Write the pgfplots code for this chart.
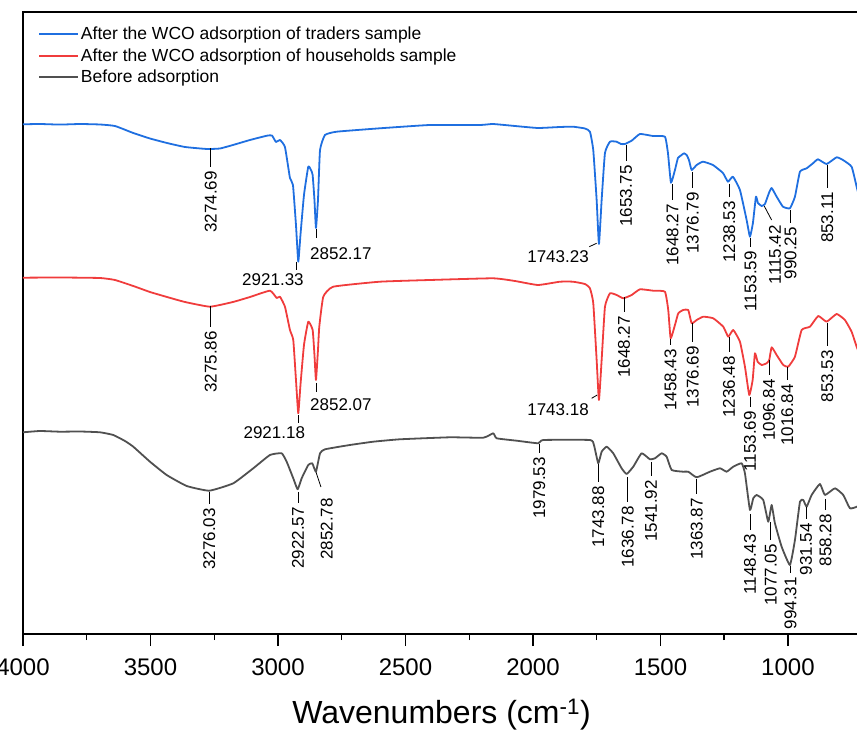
\documentclass[border=0pt]{standalone}
\usepackage{fontspec}
\setmainfont{Liberation Sans}
\usepackage{pgfplots}
\usepackage{pgfplotstable}
\pgfplotsset{compat=1.18}
\usetikzlibrary{calc}

\definecolor{cblue}{HTML}{1F6FE0}
\definecolor{cred}{HTML}{F03C3C}
\definecolor{cgrey}{HTML}{505050}

% columns: wavenumber, depth below the top of the picture (axis top = 12, bottom = 634)
\pgfplotstableread{
w y
4000 124.3
3933.3 124.0
3854.9 124.6
3776.5 124.0
3698.0 124.5
3639.2 126
3567.5 133
3502 138.5
3435.3 143
3364.7 147
3278.4 149
3227.5 148.5
3176.5 145
3109.8 140
3043.2 135.7
3023.5 135.5
3007.8 142
2992.2 140
2972.6 147
2953.0 178
2941.2 185
2929.4 225
2920.4 261.7
2911.8 235
2898.0 195
2881.2 166.7
2870.6 170
2864.0 175
2856.9 200
2851.0 228
2843.1 200
2835.1 150
2815.7 135
2769.8 131.7
2600.0 128.3
2404.0 125
2208.1 125
2157.1 124
2070.5 126
1980.4 128
1894.1 127
1843.1 126.7
1796.1 128.5
1776.5 131.7
1763.5 150
1750.2 200
1741.2 244
1730.6 200
1717.6 153
1698.0 141.7
1671.8 141.7
1654.9 144
1639.2 144
1612.9 140.7
1580.4 134
1529.5 136
1482.4 136.7
1470.6 153
1458.8 182.7
1443.1 170
1431.4 158
1416.9 155
1407.8 153.3
1397.3 155
1388.2 160
1377.6 170
1358.0 165
1333.3 161.7
1294.1 165
1254.9 173
1235.3 181.7
1215.7 176.7
1188.2 190
1162.0 220
1149.0 236.7
1137.3 223
1125.5 196.7
1117.6 203
1103.1 206
1090.2 204
1074.5 193
1063.9 188
1044.3 196.7
1019.6 206.7
992.2 208.3
972.5 196.7
952.9 171.7
926.6 168.3
901.9 163.3
882.3 159.3
848.3 164
809.0 157.3
784.3 160
750.3 166.7
730.6 186.7
717.6 200
}\traders

\pgfplotstableread{
w y
4000 277.7
3854.9 277.5
3698 278
3639.2 280
3567.5 286
3502 292
3435.3 297
3364.7 302
3266.7 306.7
3176.5 302
3109.8 297
3031.4 290.7
3005.1 298
2992.2 296.7
2972.6 306.7
2953 330
2940 340
2929.4 380
2920.4 413.3
2911.8 385
2898 345
2881.2 321.7
2864 330
2856.9 355
2851 380
2843.1 350
2838 326.7
2822.3 296.7
2783.1 286.7
2600 281.7
2404 280
2157.1 278.3
2070.5 281
1980.4 285
1894.1 281.7
1843.1 281.7
1796.1 284
1776.5 288.3
1763.5 303
1750.2 360
1741.2 400
1730.6 360
1717.6 306.7
1698 293.3
1671.8 295
1645.9 298.3
1612.9 295
1580.4 289.3
1528.2 290.7
1482.4 291.7
1469.4 310
1460.0 338.3
1443.1 325
1430.1 313.3
1410.6 310
1390.9 310
1377.6 323.3
1358 320
1332.1 316.7
1292.9 318.3
1253.7 326.7
1234.1 336.7
1214.5 330
1188.2 341.7
1168.6 366.7
1151.7 395
1138.4 380
1129.4 353.3
1118.8 361.7
1103.1 365
1083.5 363.3
1073.3 360
1063.9 347.3
1044.3 355
1018.4 365
998.8 366.7
972.5 356.7
946.3 330
913.6 326.7
881.1 316
848.3 321.7
809 314
776.5 320
750.3 331.7
730.6 346.7
717.6 355
}\households

\pgfplotstableread{
w y
4000 432.3
3933.3 431
3854.9 431.7
3776.5 431.5
3698 432.3
3645.9 435
3600 441
3567.5 446.7
3502 461.7
3436.5 475
3358.0 486
3269.4 490.7
3175.3 483.3
3096.9 468.3
3031.4 455
2985.5 453.3
2965.9 461.7
2940 478.3
2922.8 489.3
2907.1 478.3
2881.2 465
2865.5 463.3
2851 471.7
2835.1 453.3
2815.7 449.3
2718.0 445
2626.3 441.7
2521.6 439.3
2325.5 437.3
2194.8 437.7
2155.7 433.3
2142.4 438.3
2064 440.7
1979.2 443.3
1959.6 440
1776.5 440
1760.8 445
1743.9 463.3
1730.6 451.7
1711 446.7
1685.1 453.3
1652.2 468.3
1632.6 474
1606.6 466.7
1573.8 453.3
1541.2 459.3
1521.6 458.3
1495.3 453.3
1475.7 456.7
1456.1 470
1410.6 471.7
1390.9 471.7
1358 477.3
1305.8 471.7
1266.7 468.3
1240.4 471.7
1214.5 466.7
1181.6 463.3
1168.6 473.3
1149 510
1136 498.3
1122.7 495
1096.8 500
1077.2 521.7
1063.9 505
1051 523.3
1024.7 546.7
992.2 565
972.5 540
952.9 501.7
939.9 500
926.6 506.7
907.1 495
874.5 484
855 495
815.7 488.3
783.1 495
756.9 508.3
729.4 506.7
717.6 505
}\before

\newcommand{\pkfont}{\fontsize{17}{20}\selectfont}
% peak marker: wavenumber, line top, line bottom, label (depths below picture top)
\newcommand{\pk}[4]{%
  \draw[black, line width=0.8pt] (axis cs:#1,736-#2) -- (axis cs:#1,736-#3);
  \node[rotate=90, anchor=east, inner sep=0pt, font=\pkfont] at (axis cs:#1,732-#3) {#4};}

\begin{document}
\begin{tikzpicture}
\begin{axis}[
    scale only axis,
    width=837.1pt, height=622pt,
    x dir=reverse,
    xmin=717, xmax=4000,
    ymin=102, ymax=724,
    xtick={1000,1500,2000,2500,3000,3500,4000},
    minor x tick num=1,
    ytick=\empty,
    xtick pos=bottom,
    tick align=outside,
    major tick length=12pt,
    minor tick length=6pt,
    every tick/.style={black, line width=1.4pt},
    axis line style={line width=1.6pt},
    /pgf/number format/assume math mode=true,
    /pgf/number format/set thousands separator={},
    tick label style={font=\fontsize{24}{28}\selectfont},
    xticklabel style={yshift=-9pt},
    xlabel={Wavenumbers (cm\textsuperscript{-1})},
    xlabel style={font=\fontsize{32}{37}\selectfont, yshift=-17pt},
    legend style={draw=none, fill=none, at={(axis description cs:0,1)}, anchor=north west,
        xshift=12pt, yshift=-11pt, font=\fontsize{17.5}{21}\selectfont, row sep=3.3pt},
    legend cell align=left,
    legend image code/.code={\draw[#1] (0pt,0pt) -- (39pt,0pt);},
    clip=true,
]
\addplot[cblue, line width=1.8pt, line join=round, smooth, tension=0.25] table[x=w, y expr=736-\thisrow{y}] {\traders};
\addlegendentry{After the WCO adsorption of traders sample}
\addplot[cred, line width=1.8pt, line join=round, smooth, tension=0.25] table[x=w, y expr=736-\thisrow{y}] {\households};
\addlegendentry{After the WCO adsorption of households sample}
\addplot[cgrey, line width=1.8pt, line join=round, smooth, tension=0.25] table[x=w, y expr=736-\thisrow{y}] {\before};
\addlegendentry{Before adsorption}

\coordinate (O) at (axis cs:4000,102);

% traders
\pk{3264}{148}{167}{3274.69}
\pk{1635.3}{145}{161}{1653.75}
\pk{1452.2}{184}{200}{1648.27}
\pk{1373.7}{172}{188}{1376.79}
\pk{1230.2}{184}{197}{1238.53}
\pk{1146.3}{238}{247}{1153.59}
\pk{989.4}{210}{223}{990.25}
\pk{845.9}{165}{188}{853.11}
\draw[black, line width=0.8pt] (axis cs:1093,736-206) -- (axis cs:1064,736-220);
\node[rotate=90, anchor=east, inner sep=0pt, font=\pkfont] at (axis cs:1051,736-225) {1115.42};
\draw[black, line width=0.8pt] (axis cs:2926.7,736-262) -- (axis cs:2926.7,736-270);
\node[anchor=center, inner sep=0pt, font=\pkfont] at (axis cs:3019.6,736-280) {2921.33};
\draw[black, line width=0.8pt] (axis cs:2848.3,736-229) -- (axis cs:2848.3,736-238);
\node[anchor=west, inner sep=0pt, font=\pkfont] at (axis cs:2874.5,736-253.3) {2852.17};
\draw[black, line width=0.8pt] (axis cs:1779.2,736-246.7) -- (axis cs:1750.2,736-243.3);
\node[anchor=east, inner sep=0pt, font=\pkfont] at (axis cs:1780.4,736-256.7) {1743.23};

% households
\pk{3264}{306}{327}{3275.86}
\pk{1643.1}{297}{312}{1648.27}
\pk{1460}{339}{345}{1458.43}
\pk{1373.7}{323}{342}{1376.69}
\pk{1231.3}{337}{352}{1236.48}
\pk{1149}{397}{407}{1153.69}
\pk{1074.5}{360}{375}{1096.84}
\pk{1002.7}{367}{380}{1016.84}
\pk{845.9}{323}{346}{853.53}
\draw[black, line width=0.8pt] (axis cs:2920.4,736-415) -- (axis cs:2920.4,736-423.3);
\node[anchor=center, inner sep=0pt, font=\pkfont] at (axis cs:3014.5,736-432.7) {2921.18};
\draw[black, line width=0.8pt] (axis cs:2848.3,736-383) -- (axis cs:2848.3,736-392);
\node[anchor=west, inner sep=0pt, font=\pkfont] at (axis cs:2874.5,736-405) {2852.07};
\draw[black, line width=0.8pt] (axis cs:1769.8,736-398.3) -- (axis cs:1747.8,736-395);
\node[anchor=east, inner sep=0pt, font=\pkfont] at (axis cs:1780.4,736-409.5) {1743.18};

% before adsorption
\pk{3269.4}{492}{504}{3276.03}
\pk{2921.6}{492}{503}{2922.57}
\pk{1975.3}{444}{453}{1979.53}
\pk{1744}{464}{482}{1743.88}
\pk{1628.6}{477}{502}{1636.78}
\pk{1537.3}{462}{476}{1541.92}
\pk{1358}{479}{494}{1363.87}
\pk{1149}{514}{530}{1148.43}
\pk{1067.8}{522}{540}{1077.05}
\pk{989.4}{566}{573}{994.31}
\pk{929.4}{507}{519}{931.54}
\pk{852.2}{499}{510}{858.28}
\draw[black, line width=0.8pt] (axis cs:2851,736-472) -- (axis cs:2831.4,736-487);
\node[rotate=90, anchor=east, inner sep=0pt, font=\pkfont] at (axis cs:2809,736-498) {2852.78};
\end{axis}
\pgfresetboundingbox
\path[use as bounding box] ($(O)+(-23pt,-102pt)$) rectangle ($(O)+(834pt,634pt)$);
\end{tikzpicture}
\end{document}
